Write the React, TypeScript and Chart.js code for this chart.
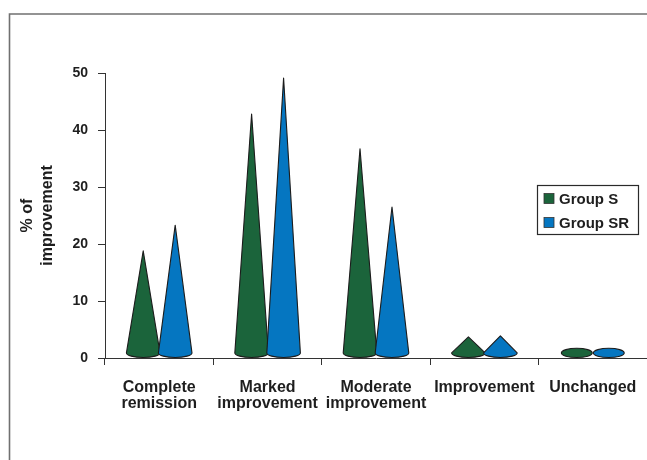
import { useEffect, useRef } from "react";
import { Chart, registerables } from "chart.js";

Chart.register(...registerables);

// Categories (multi-line axis labels)
const categories: string[][] = [
  ["Complete", "remission"],
  ["Marked", "improvement"],
  ["Moderate", "improvement"],
  ["Improvement"],
  ["Unchanged"],
];

const seriesNames = ["Group S", "Group SR"];
const groupS = [18.8, 42.8, 36.7, 3.7, 0.8];
const groupSR = [23.3, 49.1, 26.5, 3.9, 0.8];
const seriesColors = ["#1b643b", "#0576c1"];

const yMin = 0;
const yMax = 50;
const yStep = 10;
const yTitle = ["% of", "improvement"];

const FONT = "'Liberation Sans', Arial, Helvetica, sans-serif";
const INK = "#1e1e1e";

// Open frame around the figure (top and left edges only)
const framePlugin = {
  id: "frame",
  beforeDraw(chart: any) {
    const ctx = chart.ctx;
    ctx.save();
    ctx.strokeStyle = "#707070";
    ctx.lineWidth = 1.6;
    ctx.beginPath();
    ctx.moveTo(9.5, chart.height);
    ctx.lineTo(9.5, 14);
    ctx.lineTo(chart.width, 14);
    ctx.stroke();
    ctx.restore();
  },
};

// Draws each bar element as a cone with an elliptical base
const conePlugin = {
  id: "cones",
  beforeDatasetDraw() {
    return false;
  },
  afterDatasetsDraw(chart: any) {
    const ctx = chart.ctx;
    ctx.save();
    chart.data.datasets.forEach((ds: any, i: number) => {
      const meta = chart.getDatasetMeta(i);
      meta.data.forEach((el: any) => {
        const { x, y, base, width } = el.getProps(["x", "y", "base", "width"], true);
        const rx = width / 2 + 0.8;
        const ry = 4.6;
        const by = base - 4.6;
        ctx.beginPath();
        if (y > by - ry * 0.8) {
          ctx.ellipse(x, by, rx * 0.92, ry, 0, 0, Math.PI * 2);
        } else {
          ctx.moveTo(x - rx, by);
          ctx.lineTo(x, y);
          ctx.lineTo(x + rx, by);
          ctx.ellipse(x, by, rx, ry, 0, 0, Math.PI, false);
        }
        ctx.closePath();
        ctx.fillStyle = ds.backgroundColor;
        ctx.fill();
        ctx.lineWidth = 1.1;
        ctx.strokeStyle = "#1c1c1c";
        ctx.lineJoin = "round";
        ctx.stroke();
      });
    });
    ctx.restore();
  },
};

// Boxed legend placed inside the plot on the right
const boxLegendPlugin = {
  id: "boxLegend",
  afterDraw(chart: any) {
    const ctx = chart.ctx;
    const left = 537.5;
    const top = 185.5;
    const w = 101;
    const h = 49;
    ctx.save();
    ctx.fillStyle = "#ffffff";
    ctx.fillRect(left, top, w, h);
    ctx.strokeStyle = "#2a2a2a";
    ctx.lineWidth = 1.2;
    ctx.strokeRect(left, top, w, h);
    ctx.font = `bold 15px ${FONT}`;
    ctx.textBaseline = "middle";
    ctx.textAlign = "left";
    chart.data.datasets.forEach((ds: any, i: number) => {
      const cy = top + 13 + i * 24;
      ctx.fillStyle = ds.backgroundColor;
      ctx.fillRect(544, cy - 5, 10, 10);
      ctx.strokeStyle = "#333";
      ctx.lineWidth = 0.8;
      ctx.strokeRect(544, cy - 5, 10, 10);
      ctx.fillStyle = INK;
      ctx.fillText(ds.label, 559, cy + 1);
    });
    ctx.restore();
  },
};

export default function App() {
  const canvasRef = useRef<HTMLCanvasElement | null>(null);

  useEffect(() => {
    if (!canvasRef.current) return;
    const chart = new Chart(canvasRef.current, {
      type: "bar",
      data: {
        labels: categories,
        datasets: [
          { label: seriesNames[0], data: groupS, backgroundColor: seriesColors[0] },
          { label: seriesNames[1], data: groupSR, backgroundColor: seriesColors[1] },
        ],
      },
      options: {
        responsive: false,
        animation: false,
        layout: { padding: { left: 18, top: 73, right: 0, bottom: 42 } },
        datasets: {
          bar: { categoryPercentage: 0.59, barPercentage: 1 },
        },
        plugins: {
          legend: { display: false },
          tooltip: { enabled: false },
        },
        scales: {
          x: {
            grid: {
              offset: true,
              drawOnChartArea: false,
              drawTicks: true,
              tickLength: 7,
              color: "#333",
            },
            border: { color: "#333", width: 1 },
            ticks: {
              color: INK,
              font: { family: FONT, size: 16, weight: "bold", lineHeight: 1.0 },
              padding: 15,
              maxRotation: 0,
              autoSkip: false,
            },
            afterFit(scale: any) {
              scale.height = 60;
              scale.paddingLeft = 0;
              scale.paddingRight = 0;
            },
          },
          y: {
            min: yMin,
            max: yMax,
            grid: {
              drawOnChartArea: false,
              drawTicks: true,
              tickLength: 7,
              color: "#333",
            },
            border: { color: "#333", width: 1 },
            ticks: {
              stepSize: yStep,
              color: INK,
              font: { family: FONT, size: 14, weight: "bold" },
              padding: 10,
            },
            title: {
              display: true,
              text: yTitle,
              color: INK,
              font: { family: FONT, size: 16, weight: "bold", lineHeight: 1.25 },
              padding: { top: 0, bottom: 0 },
            },
            afterFit(scale: any) {
              scale.width = 87;
            },
          },
        },
      },
      plugins: [framePlugin, conePlugin, boxLegendPlugin],
    });
    return () => chart.destroy();
  }, []);

  return (
    <canvas
      ref={canvasRef}
      width={647}
      height={460}
      style={{ position: "fixed", left: 0, top: 0, display: "block" }}
    />
  );
}
